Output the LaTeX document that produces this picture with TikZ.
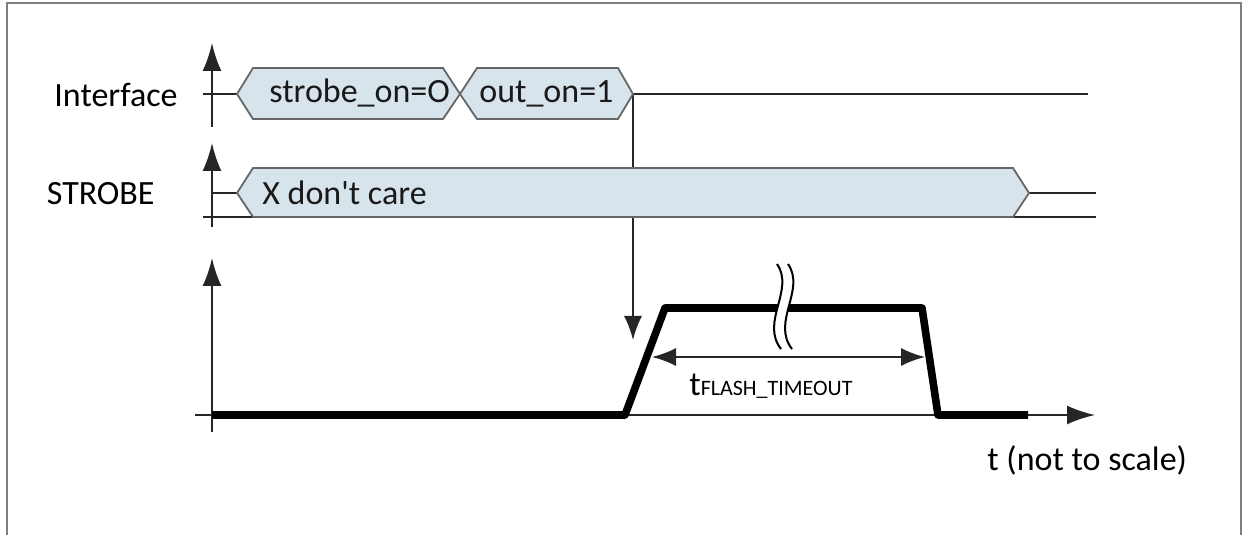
\documentclass[tikz,border=0pt]{standalone}
\usepackage{fontspec}
\setmainfont{Carlito}[Ligatures=TeXOff]
\usetikzlibrary{arrows.meta}
\definecolor{busfill}{HTML}{D7E4EC}
\definecolor{framegray}{HTML}{7F7F7F}
\begin{document}
\begin{tikzpicture}[x=0.5pt,y=-0.5pt,
  font=\fontsize{17}{20}\selectfont,
  txt/.style={inner sep=0pt, text=black!90},
  axisarrow/.style={draw=black!85, line width=1pt, -{Latex[length=14pt,width=9.5pt]}},
  thinline/.style={draw=black!85, line width=0.9pt},
  bus/.style={draw=black!60, line width=0.9pt, fill=busfill},
  pulse/.style={draw=black, line width=3.8pt, line join=round},
  dimarrow/.style={draw=black!85, line width=0.9pt, {Latex[length=12pt,width=9pt]}-{Latex[length=12pt,width=9pt]}},
  downarrow/.style={draw=black!85, line width=0.9pt, -{Latex[length=12pt,width=9pt]}}]
\useasboundingbox (0,0) rectangle (1250,535);
% frame
\draw[framegray, line width=1pt] (7,535) -- (7,3) -- (1241,3) -- (1241,535);

% coordinates
\coordinate (ia0) at (212,127); \coordinate (ia1) at (212,43);
\coordinate (sa0) at (212,227); \coordinate (sa1) at (212,143);
\coordinate (fa0) at (212,432); \coordinate (fa1) at (212,258);
\coordinate (ta0) at (195,415); \coordinate (ta1) at (1095,415);
\coordinate (outpt) at (633,94); \coordinate (downtip) at (633,340);

% axes
\draw[axisarrow] (ia0) -- (ia1);
\draw[axisarrow] (sa0) -- (sa1);
\draw[axisarrow] (fa0) -- (fa1);
\draw[axisarrow] (ta0) -- (ta1);

% Interface row
\draw[thinline] (203,94) -- (237,94);
\draw[thinline] (outpt) -- (1088,94);
\draw[downarrow] (outpt) -- (downtip);
\draw[bus] (237,94) -- (253,68) -- (443,68) -- (460,94) -- (443,119) -- (253,119) -- cycle;
\draw[bus] (460,94) -- (477,68) -- (618,68) -- (633,94) -- (618,119) -- (477,119) -- cycle;
\node[txt, anchor=base west] (son) at (269,103) {strobe\_on=O};
\node[txt, anchor=base west] (oon) at (479,103) {out\_on=1};

% STROBE row
\draw[thinline] (212,193) -- (237,193);
\draw[thinline] (203,217) -- (253,217);
\draw[thinline] (1029,193) -- (1096,193);
\draw[thinline] (1013,217) -- (1096,217);
\draw[bus] (237,193) -- (253,168) -- (1013,168) -- (1029,193) -- (1013,217) -- (253,217) -- cycle;
\node[txt, anchor=base west] (xdc) at (262,205) {X don't care};

% labels
\node[txt, text=black, anchor=base east] (lint) at (178,107) {Interface};
\node[txt, text=black, anchor=base east] (lstr) at (155,205) {STROBE};

% flash pulse
\draw[pulse] (212,415) -- (625,415) -- (665,308) -- (922,308) -- (938,415) -- (1028,415);

% break mark
\fill[white] (777,264) .. controls (795,290) and (760,322) .. (781,349) -- (792,349) .. controls (771,322) and (806,290) .. (788,264) -- cycle;
\draw[black, line width=1pt] (777,264) .. controls (795,290) and (760,322) .. (781,349);
\draw[black, line width=1pt] (788,264) .. controls (806,290) and (771,322) .. (792,349);

% timeout dimension
\coordinate (d0) at (652,357); \coordinate (d1) at (925,357);
\draw[dimarrow] (d0) -- (d1);
\node[txt, text=black, anchor=base west] (tft) at (689,395) {t{\fontsize{11}{13}\selectfont FLASH\_TIMEOUT}};

\node[txt, text=black, anchor=base west] (tns) at (987,470) {t (not to scale)};
\end{tikzpicture}
\end{document}
